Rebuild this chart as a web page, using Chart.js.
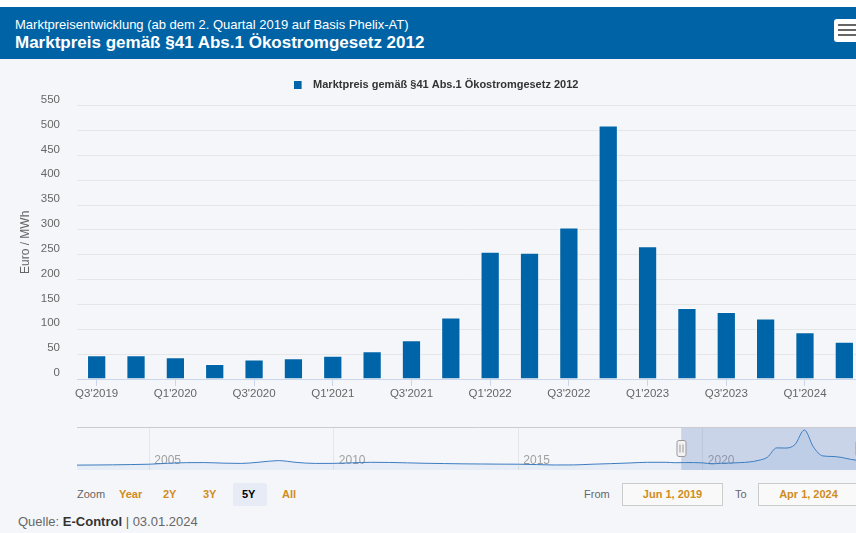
<!DOCTYPE html>
<html>
<head>
<meta charset="utf-8">
<script src="https://cdn.jsdelivr.net/npm/chart.js@4.4.1/dist/chart.umd.min.js"></script>
<style>
  html, body { margin: 0; padding: 0; }
  body {
    width: 856px; height: 533px; overflow: hidden; position: relative;
    background: #f5f6fa; font-family: "Liberation Sans", Arial, sans-serif;
  }
  .abs { position: absolute; }
  #topgap { left: 0; top: 0; width: 856px; height: 7px; background: #fff; }
  #header { left: 0; top: 7px; width: 856px; height: 52px; background: #0063a6; color: #fff; }
  #sub { left: 15px; top: 10px; font-size: 13px; line-height: 15px; white-space: nowrap; }
  #title { left: 15px; top: 26px; font-size: 17px; line-height: 20px; font-weight: bold; white-space: nowrap; }
  #menu { left: 834px; top: 12px; width: 30px; height: 23px; background: #fff; border-radius: 3px; }
  #menu div { position: absolute; left: 4px; width: 20px; height: 2px; background: #666; }
  #mainWrap { left: 0; top: 60px; }
  #navWrap { left: 77px; top: 427px; }
  .lbl { font-size: 11px; color: #666; line-height: 14px; white-space: nowrap; }
  .btn { font-size: 11px; font-weight: bold; color: #d08c1c; line-height: 14px; }
  #sel5 { left: 233px; top: 483px; width: 34px; height: 23px; background: #e6ebf5; border-radius: 2px; }
  .box { height: 21px; width: 99px; border: 1px solid #cccccc; background: #f9f9f9;
         font-size: 11px; font-weight: bold; color: #d08c1c; text-align: center; line-height: 21px; }
  #quelle { left: 18px; top: 514px; font-size: 13px; color: #666; line-height: 16px; white-space: nowrap; }
  #quelle b { color: #333; }
</style>
</head>
<body>
<div id="topgap" class="abs"></div>
<div id="header" class="abs">
  <div id="sub" class="abs">Marktpreisentwicklung (ab dem 2. Quartal 2019 auf Basis Phelix-AT)</div>
  <div id="title" class="abs">Marktpreis gemäß §41 Abs.1 Ökostromgesetz 2012</div>
  <div id="menu" class="abs"><div style="top:5px"></div><div style="top:10px"></div><div style="top:15px"></div></div>
</div>

<div id="mainWrap" class="abs"><canvas id="main" width="864" height="360"></canvas></div>
<div id="navWrap" class="abs"><canvas id="nav" width="803" height="43"></canvas></div>

<div class="abs lbl" style="left:77px;top:487px">Zoom</div>
<div id="sel5" class="abs"></div>
<div class="abs btn" style="left:119px;top:487px">Year</div>
<div class="abs btn" style="left:163px;top:487px">2Y</div>
<div class="abs btn" style="left:203px;top:487px">3Y</div>
<div class="abs btn" style="left:242px;top:487px;color:#000">5Y</div>
<div class="abs btn" style="left:282px;top:487px">All</div>
<div class="abs lbl" style="left:584px;top:487px">From</div>
<div class="abs box" style="left:622px;top:483px">Jun 1, 2019</div>
<div class="abs lbl" style="left:735px;top:487px">To</div>
<div class="abs box" style="left:758px;top:483px">Apr 1, 2024</div>
<div id="quelle" class="abs">Quelle: <b>E-Control</b> | 03.01.2024</div>

<script>
const seriesName = 'Marktpreis gemäß §41 Abs.1 Ökostromgesetz 2012';
const quarters = ["Q3'2019", "Q4'2019", "Q1'2020", "Q2'2020", "Q3'2020", "Q4'2020",
  "Q1'2021", "Q2'2021", "Q3'2021", "Q4'2021", "Q1'2022", "Q2'2022", "Q3'2022",
  "Q4'2022", "Q1'2023", "Q2'2023", "Q3'2023", "Q4'2023", "Q1'2024", "Q2'2024"];
const marktpreis = [48, 48, 44, 30, 39, 42, 47, 56, 78, 124, 256, 254, 305, 510, 267, 143, 135, 122, 94, 75];
const yTicks = [0, 50, 100, 150, 200, 250, 300, 350, 400, 450, 500, 550];

// navigator: year positions of the quarters above, plus the older history
const quarterYears = [2019.5, 2019.75, 2020.0, 2020.25, 2020.5, 2020.75, 2021.0, 2021.25,
  2021.5, 2021.75, 2022.0, 2022.25, 2022.5, 2022.75, 2023.0, 2023.25, 2023.5, 2023.75, 2024.0, 2024.25];
const histYears = [2003.0, 2003.5, 2004.0, 2004.5, 2005.0, 2005.5, 2006.0, 2006.5, 2007.0, 2007.5,
  2008.0, 2008.5, 2009.0, 2009.5, 2010.0, 2010.5, 2011.0, 2011.5, 2012.0, 2012.5, 2013.0, 2013.5,
  2014.0, 2014.5, 2015.0, 2015.5, 2016.0, 2016.5, 2017.0, 2017.5, 2018.0, 2018.5, 2019.0, 2019.25];
const histValues = [12, 14, 16, 20, 25, 38, 47, 48, 40, 36, 55, 76, 50, 36, 37, 45, 52, 50, 44, 38,
  34, 30, 28, 26, 25, 20, 14, 15, 25, 33, 42, 52, 52, 46];
const navYearTicks = [2005, 2010, 2015, 2020];
const selFrom = 2019.414, selTo = 2024.25;

Chart.defaults.font.family = '"Liberation Sans", Arial, sans-serif';

const blue = '#0065a8';

// legend marker: 8px square, with room after it
const marker = document.createElement('canvas');
marker.width = 14; marker.height = 8;
const mctx = marker.getContext('2d');
mctx.fillStyle = blue;
mctx.fillRect(0, 0, 8, 8);

const legendTweak = {
  id: 'legendTweak',
  beforeInit(chart) {
    const fit = chart.legend.fit;
    chart.legend.fit = function () { fit.call(this); this.height = 45.7; };
  },
  afterLayout(chart) {
    chart.legend.left += 4;
    chart.legend.right += 4;
  }
};

new Chart(document.getElementById('main'), {
  type: 'bar',
  data: {
    labels: quarters,
    datasets: [{
      label: seriesName,
      data: marktpreis,
      backgroundColor: blue,
      borderColor: 'rgba(255,255,255,0.5)',
      borderWidth: 1,
      categoryPercentage: 1,
      barPercentage: 0.49
    }]
  },
  options: {
    responsive: false,
    animation: false,
    layout: { padding: 0 },
    plugins: {
      legend: {
        position: 'top',
        labels: {
          usePointStyle: true,
          pointStyle: marker,
          pointStyleWidth: 14,
          boxHeight: 8,
          padding: 19.5,
          color: '#333',
          font: { size: 11, weight: 'bold' }
        }
      },
      tooltip: { enabled: false }
    },
    scales: {
      x: {
        grid: {
          drawOnChartArea: false,
          offset: false,
          tickLength: 7,
          tickColor: c => (c.index % 2 ? 'rgba(0,0,0,0)' : '#ccd6eb')
        },
        border: { color: '#ccd6eb' },
        ticks: {
          autoSkip: false,
          maxRotation: 0,
          color: '#666',
          padding: 1,
          font: { size: 11.5 },
          callback: (v, i) => (i % 2 ? '' : quarters[i])
        },
        afterFit: s => { s.height = 41; }
      },
      y: {
        min: 0,
        max: 550,
        afterBuildTicks: s => { s.ticks = yTicks.map(v => ({ value: v })); },
        ticks: { color: '#666', padding: 17, labelOffset: -6, font: { size: 11.5 } },
        grid: { color: '#e6e6e6', drawTicks: false },
        border: { display: false },
        title: {
          display: true, text: 'Euro / MWh', color: '#666',
          font: { size: 12 }, padding: { top: 18, bottom: 0 }
        },
        afterFit: s => { s.width = 77; }
      }
    }
  },
  plugins: [legendTweak]
});

const navExtras = {
  id: 'navExtras',
  beforeDatasetsDraw(chart) {
    const { ctx, chartArea: a, scales: { x } } = chart;
    ctx.save();
    ctx.fillStyle = '#a0a0a0';
    ctx.font = '12px "Liberation Sans", Arial, sans-serif';
    ctx.textBaseline = 'middle';
    navYearTicks.forEach(v => ctx.fillText(String(v), x.getPixelForValue(v) + 5, 34));
    const x0 = x.getPixelForValue(selFrom), x1 = x.getPixelForValue(selTo);
    ctx.fillStyle = 'rgba(102,133,194,0.3)';
    ctx.fillRect(x0, a.top, x1 - x0, a.bottom - a.top);
    ctx.restore();
  },
  afterDraw(chart) {
    const { ctx, scales: { x } } = chart;
    ctx.save();
    ctx.strokeStyle = '#cccccc';
    ctx.lineWidth = 1;
    ctx.beginPath();
    ctx.moveTo(0, 0.5);
    ctx.lineTo(chart.width, 0.5);
    ctx.stroke();
    [selFrom, selTo].forEach(v => {
      const cx = Math.round(x.getPixelForValue(v)) + 0.5;
      ctx.fillStyle = '#f2f2f2';
      ctx.strokeStyle = '#999';
      ctx.beginPath();
      ctx.roundRect(cx - 4.5, 13.5, 9, 16, 2);
      ctx.fill();
      ctx.stroke();
      ctx.beginPath();
      ctx.moveTo(cx - 1.5, 17.5); ctx.lineTo(cx - 1.5, 25.5);
      ctx.moveTo(cx + 1.5, 17.5); ctx.lineTo(cx + 1.5, 25.5);
      ctx.stroke();
    });
    ctx.restore();
  }
};

const navYears = histYears.concat(quarterYears);
const navValues = histValues.concat(marktpreis);

new Chart(document.getElementById('nav'), {
  type: 'line',
  data: {
    datasets: [{
      data: navYears.map((x, i) => ({ x: x, y: navValues[i] })),
      borderColor: '#3b7cc0',
      borderWidth: 1,
      pointRadius: 0,
      fill: 'start',
      backgroundColor: 'rgba(59,124,192,0.07)',
      cubicInterpolationMode: 'monotone'
    }]
  },
  options: {
    responsive: false,
    animation: false,
    layout: { padding: 0 },
    plugins: { legend: { display: false }, tooltip: { enabled: false } },
    scales: {
      x: {
        type: 'linear',
        min: 2003.04,
        max: 2003.04 + 803 / 36.9,
        afterBuildTicks: s => { s.ticks = navYearTicks.map(v => ({ value: v })); },
        grid: { color: '#e6e6e6', drawTicks: false },
        border: { display: false },
        ticks: { display: false }
      },
      y: { display: false, min: -57, max: 552 }
    }
  },
  plugins: [navExtras]
});
</script>
</body>
</html>
